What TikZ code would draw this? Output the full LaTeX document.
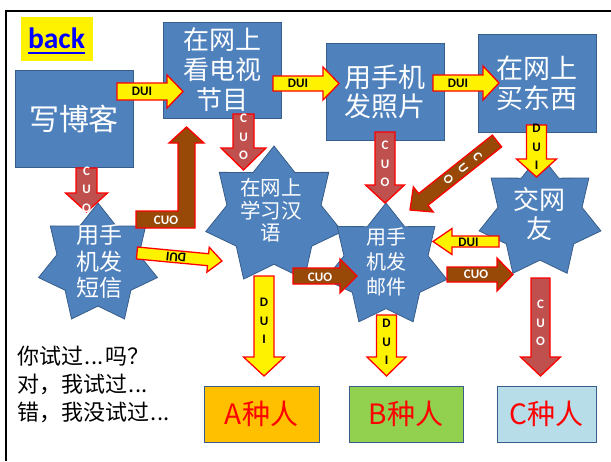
\documentclass[tikz,border=0pt]{standalone}
\usepackage{fontspec}
\setmainfont{Noto Sans CJK SC}
\newfontfamily\carl{Carlito}
\usetikzlibrary{shapes.geometric,calc}
\definecolor{boxblue}{HTML}{4F81BD}
\definecolor{boxline}{HTML}{385D8A}
\definecolor{brownarr}{HTML}{984807}
\definecolor{cuored}{HTML}{C0504D}
\definecolor{aorange}{HTML}{FFC000}
\definecolor{bgreen}{HTML}{92D050}
\definecolor{clblue}{HTML}{B7DEE8}
\definecolor{backblue}{HTML}{0000FF}
\newcommand\fwdots{\makebox[1em][s]{\hspace{0.08em}.\hfil.\hfil.\hspace{0.08em}}}
% #1 style, #2 start, #3 tip, #4 body half width, #5 head half width, #6 head length
\newcommand\blockarrow[6]{%
  \coordinate (ba-base) at ($(#3)!#6!(#2)$);
  \path[#1] ($(#2)!#4!90:(#3)$) -- ($(ba-base)!#4!90:(#3)$) -- ($(ba-base)!#5!90:(#3)$)
    -- (#3) -- ($(ba-base)!#5!-90:(#3)$) -- ($(ba-base)!#4!-90:(#3)$)
    -- ($(#2)!#4!-90:(#3)$) -- cycle;
}
\begin{document}
\begin{tikzpicture}[x=1pt,y=-1pt,
  bluebox/.style={draw=boxline, line width=1pt, fill=boxblue, text=white, inner sep=0pt, align=center},
  starnode/.style={star, star points=7, star point ratio=1.45, draw=boxline, line width=0.8pt, fill=boxblue, inner sep=0pt},
  wtext/.style={text=white, align=center, inner sep=0pt},
  arrY/.style={fill=yellow, draw=red, line width=1.3pt},
  arrB/.style={fill=brownarr, draw=red, line width=1.3pt},
  arrR/.style={fill=cuored, draw=red, line width=1.3pt},
  duilbl/.style={font=\carl\bfseries\fontsize{13}{18.5}\selectfont, text=black, align=center, inner sep=0pt},
  cuolbl/.style={font=\carl\bfseries\fontsize{13}{18.5}\selectfont, text=white, align=center, inner sep=0pt},
  resbox/.style={draw=boxline, line width=1pt, text=red, font=\fontsize{28}{32}\selectfont, minimum height=56pt, inner sep=0pt}
]
\useasboundingbox (0,0) rectangle (611,461);
% frame
\draw[line width=2.5pt] (6,461) -- (6,11) -- (611,11);
% back button
\node[fill=yellow, minimum width=72pt, minimum height=44pt, inner sep=0pt] (backbox) at (57,39) {};
\node[anchor=base, text=backblue, font=\carl\bfseries\fontsize{29.5}{32}\selectfont, inner sep=0pt] (back) at (56.5,48) {back};
\draw[backblue, line width=2pt] (28,53) -- (85,53);

% boxes
\node[bluebox, minimum width=118pt, minimum height=97pt, font=\fontsize{30}{34}\selectfont] (blog) at (74,118.5) {写博客};
\node[bluebox, minimum width=118pt, minimum height=96pt, font=\fontsize{26}{30}\selectfont] (tv) at (222,70) {在网上\\看电视\\节目};
\node[bluebox, minimum width=118pt, minimum height=97pt, font=\fontsize{27}{29}\selectfont] (photo) at (385,91.5) {用手机\\发照片};
\node[bluebox, minimum width=118pt, minimum height=98pt, font=\fontsize{27}{30}\selectfont] (shop) at (537,83) {在网上\\买东西};

% stars
\node[starnode, minimum size=122pt] (sms) at (98,264) {};
\node[starnode, minimum size=140pt] (learn) at (274,216) {};
\node[starnode, minimum size=125pt] (mail) at (386,265.5) {};
\node[starnode, minimum size=125pt] (friend) at (540,217) {};
\node[wtext, font=\fontsize{23}{26.5}\selectfont] (smst) at (99,261.5) {用手\\机发\\短信};
\node[wtext, font=\fontsize{20.5}{22.5}\selectfont] (learnt) at (271,210.5) {在网上\\学习汉\\语};
\node[wtext, font=\fontsize{20}{25}\selectfont] (mailt) at (386,262) {用手\\机发\\邮件};
\node[wtext, font=\fontsize{26}{29}\selectfont] (friendt) at (539,213.5) {交网\\友};

% result boxes
\node[resbox, fill=aorange, minimum width=115pt] (A) at (261.5,414) {A种人};
\node[resbox, fill=bgreen, minimum width=114pt] (B) at (406,414) {B种人};
\node[resbox, fill=clblue, minimum width=99pt] (C) at (546.5,414) {C种人};

% side text
\node[anchor=west, align=left, inner sep=0pt, font=\fontsize{22}{28}\selectfont] (quiz) at (17,384) {你试过\fwdots 吗？\\对，我试过\fwdots\\错，我没试过\fwdots};

% arrows
\coordinate (a1s) at (117,91.5); \coordinate (a1t) at (183,91.5);
\blockarrow{arrY}{a1s}{a1t}{8.5pt}{16.5pt}{16pt}
\node[duilbl] at (142,91.5) {DUI};

\coordinate (a2s) at (273,83.5); \coordinate (a2t) at (339,83.5);
\blockarrow{arrY}{a2s}{a2t}{7.5pt}{16.5pt}{16pt}
\node[duilbl] at (298,83.5) {DUI};

\coordinate (a3s) at (433,83); \coordinate (a3t) at (499,83);
\blockarrow{arrY}{a3s}{a3t}{8pt}{17pt}{16pt}
\node[duilbl] at (458,83) {DUI};

\coordinate (a4s) at (243.5,114); \coordinate (a4t) at (243.5,170);
\blockarrow{arrR}{a4s}{a4t}{10.5pt}{22.5pt}{22pt}
\node[cuolbl] at (243.5,137) {C\\U\\O};

\coordinate (a5s) at (86.5,168); \coordinate (a5t) at (86.5,212);
\blockarrow{arrR}{a5s}{a5t}{10.5pt}{21pt}{19pt}
\node[cuolbl] at (86.5,189.5) {C\\U\\O};

% bent arrow from sms up to tv
\path[arrB] (136,211) -- (178,211) -- (178,143) -- (169,143) -- (186.5,127) -- (204,143) -- (195,143) -- (195,228) -- (136,228) -- cycle;
\node[cuolbl] at (166,220) {CUO};

\coordinate (a7s) at (137,253); \coordinate (a7t) at (222,261);
\blockarrow{arrY}{a7s}{a7t}{6pt}{12.5pt}{14pt}
\node[duilbl, rotate=174] at (176,257) {DUI};

\coordinate (a8s) at (385,132); \coordinate (a8t) at (385,203);
\blockarrow{arrR}{a8s}{a8t}{10pt}{19.5pt}{18pt}
\node[cuolbl] at (385,164) {C\\U\\O};

\coordinate (a9s) at (497,141); \coordinate (a9t) at (410,210);
\blockarrow{arrB}{a9s}{a9t}{7.5pt}{16pt}{17pt}
\node[cuolbl, rotate=-51.6] at (463,168) {C\\U\\O};

\coordinate (a10s) at (536.5,125); \coordinate (a10t) at (536.5,177);
\blockarrow{arrY}{a10s}{a10t}{10pt}{20pt}{18pt}
\node[duilbl] at (536.5,147) {D\\U\\I};

\coordinate (a11s) at (499,241.5); \coordinate (a11t) at (433,241.5);
\blockarrow{arrY}{a11s}{a11t}{5.5pt}{13pt}{19pt}
\node[duilbl] at (468.5,242) {DUI};

\coordinate (a12s) at (447,274.5); \coordinate (a12t) at (513,274.5);
\blockarrow{arrB}{a12s}{a12t}{7.5pt}{16.5pt}{16pt}
\node[cuolbl] at (476,274.5) {CUO};

\coordinate (a13s) at (293,276); \coordinate (a13t) at (357,276);
\blockarrow{arrB}{a13s}{a13t}{8pt}{17pt}{17pt}
\node[cuolbl] at (320,277) {CUO};

\coordinate (a14s) at (264,276); \coordinate (a14t) at (264,376);
\blockarrow{arrY}{a14s}{a14t}{10pt}{20.5pt}{19pt}
\node[duilbl] at (264,321) {D\\U\\I};

\coordinate (a15s) at (386.5,315); \coordinate (a15t) at (386.5,376);
\blockarrow{arrY}{a15s}{a15t}{10pt}{19.5pt}{19pt}
\node[duilbl] at (386.5,342) {D\\U\\I};

\coordinate (a16s) at (540.5,278); \coordinate (a16t) at (540.5,376);
\blockarrow{arrR}{a16s}{a16t}{9.5pt}{20pt}{19pt}
\node[cuolbl] at (540.5,323) {C\\U\\O};
\end{tikzpicture}
\end{document}
